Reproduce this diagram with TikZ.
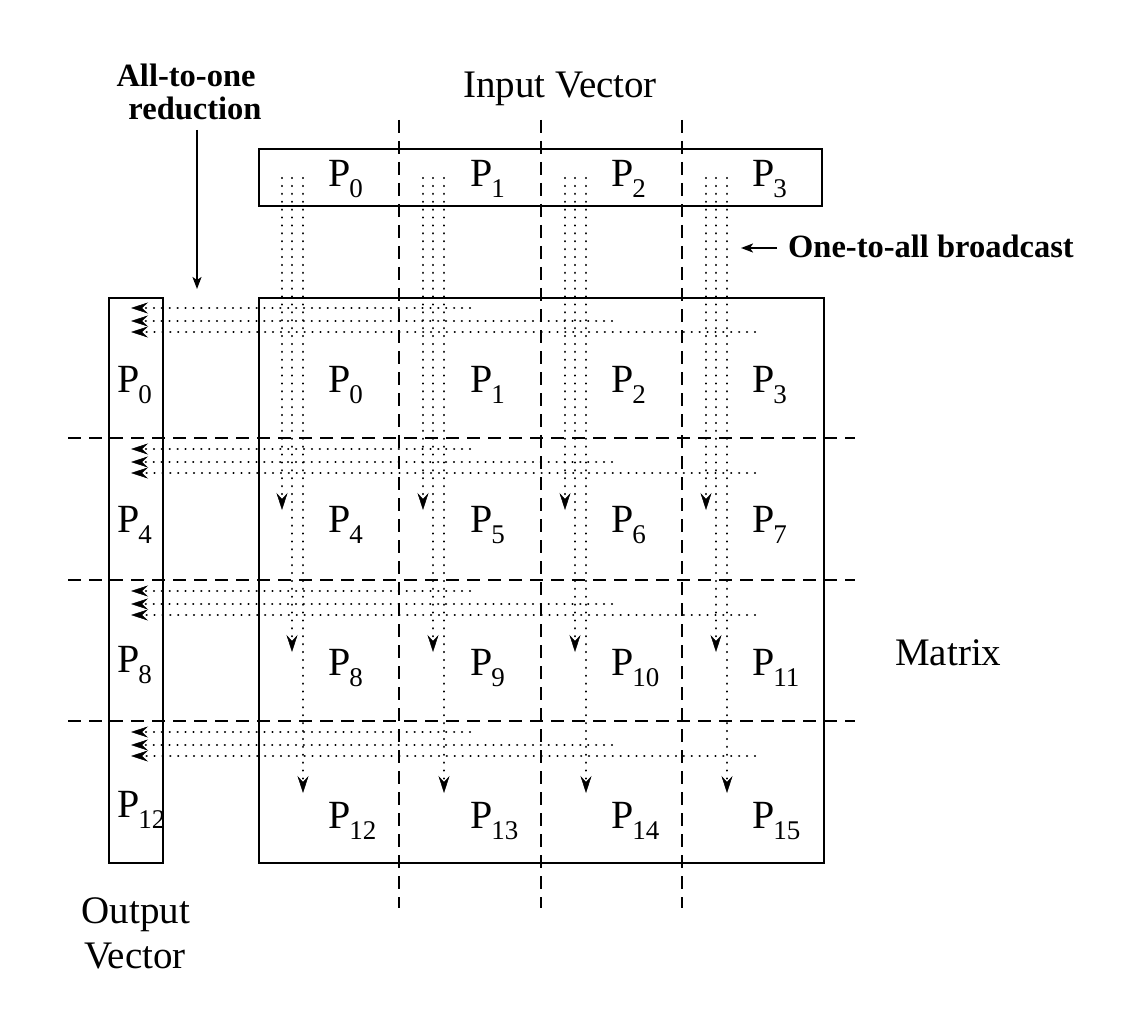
\documentclass[tikz,border=0pt]{standalone}
\usepackage{fontspec}
\setmainfont{Liberation Serif}
\usetikzlibrary{arrows.meta}
\newcommand{\Pl}[1]{P\kern-1pt\raisebox{-11pt}{\fontsize{27}{27}\selectfont #1}}
\begin{document}
\begin{tikzpicture}[x=1pt,y=-1pt,
  boxst/.style={draw, line width=1.8pt, inner sep=0pt, anchor=north west},
  dashln/.style={line width=1.9pt, dash pattern=on 13pt off 8pt},
  dotln/.style={line width=2.3pt, line cap=round, dash pattern=on 0.1pt off 7.8pt},
  tipst/.style={-{Stealth[length=17pt,width=11pt,inset=6pt,line width=0.5pt]}},
  solidarr/.style={line width=1.9pt, -{Stealth[length=12pt,width=9pt,inset=3pt]}},
  plab/.style={anchor=base west, inner sep=0pt, font=\fontsize{40}{40}\selectfont},
  txt/.style={inner sep=0pt, font=\fontsize{39}{45}\selectfont},
  btxt/.style={inner sep=0pt, font=\fontsize{32.5}{33}\selectfont\bfseries},
]
\useasboundingbox (0,0) rectangle (1132,1024);

% boxes
\node[boxst, minimum width=563pt, minimum height=57pt] (inbox) at (258,148) {};
\node[boxst, minimum width=565pt, minimum height=565pt] (matbox) at (258,297) {};
\node[boxst, minimum width=54pt, minimum height=565pt] (outbox) at (108,297) {};

% dashed partition lines
\foreach \x [count=\i] in {399,541,682} {
  \coordinate (vt\i) at (\x,120);
  \coordinate (vb\i) at (\x,908);
  \draw[dashln] (vt\i) -- (vb\i);
}
\foreach \y [count=\i] in {438,580,721} {
  \coordinate (hl\i) at (68,\y);
  \coordinate (hr\i) at (855,\y);
  \draw[dashln] (hl\i) -- (hr\i);
}

% one-to-all broadcast (vertical dotted lines)
\foreach \cx [count=\c from 0] in {258,399,541,682} {
  \foreach \dx/\tip in {24/510, 34/652, 45/793} {
    \coordinate (vs-\c-\dx) at (\cx+\dx,178);
    \coordinate (ve-\c-\dx) at (\cx+\dx,\tip);
    \draw[dotln, tipst] (vs-\c-\dx) -- (ve-\c-\dx);
  }
}

% all-to-one reduction (horizontal dotted lines)
\foreach \ry [count=\r from 0] in {297,438,580,721} {
  \foreach \dy/\xe in {11/470, 24/612, 35/755} {
    \coordinate (hs-\r-\dy) at (\xe,\ry+\dy);
    \coordinate (he-\r-\dy) at (131,\ry+\dy);
    \draw[dotln, tipst] (hs-\r-\dy) -- (he-\r-\dy);
  }
}

% input vector labels
\foreach \x/\n in {328/0,470/1,611/2,752/3}
  \node[plab] (in\n) at (\x,187) {\Pl{\n}};

% matrix labels
\foreach \yb [count=\r from 0] in {392,532,675,828} {
  \foreach \x [count=\c from 0] in {328,470,611,752} {
    \pgfmathtruncatemacro\n{4*\r+\c}
    \node[plab] (m\n) at (\x,\yb) {\Pl{\n}};
  }
}

% output vector labels
\foreach \yb/\n in {392/0,532/4,672/8,817/12}
  \node[plab] (o\n) at (117,\yb) {\Pl{\n}};

% texts
\node[txt, anchor=base] (invec) at (560,98) {Input Vector};
\node[txt, anchor=base west] (matlab) at (895,665) {Matrix};
\node[txt, anchor=base] (outv1) at (136,923) {Output};
\node[txt, anchor=base] (outv2) at (135,968) {Vector};

\node[btxt, anchor=base] (red1) at (186,87) {All-to-one};
\node[btxt, anchor=base] (red2) at (195,120) {reduction};
\coordinate (redst) at (197,130);
\coordinate (redtip) at (197,289);
\draw[solidarr] (redst) -- (redtip);

\node[btxt, anchor=base west] (bc) at (788,258) {One-to-all broadcast};
\coordinate (bcst) at (777,248);
\coordinate (bctip) at (741,248);
\draw[solidarr] (bcst) -- (bctip);
\end{tikzpicture}
\end{document}
